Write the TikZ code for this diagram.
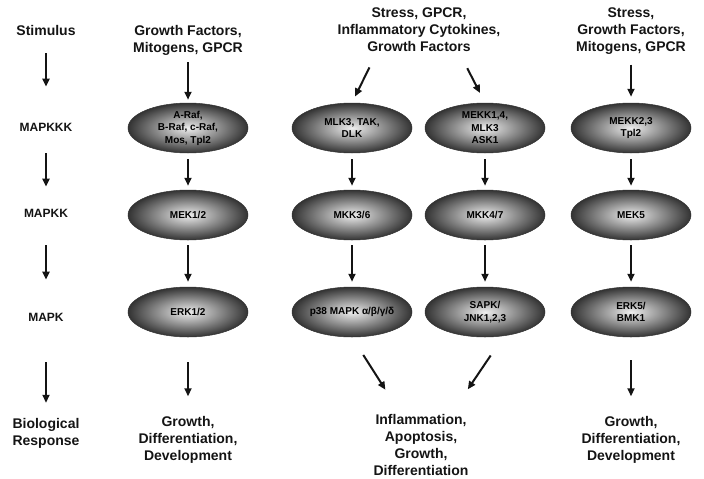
\documentclass[tikz,border=0pt]{standalone}
\usepackage{fontspec}
\setmainfont{Liberation Sans}
\usetikzlibrary{arrows.meta, shapes.geometric, calc}
\definecolor{inkdark}{HTML}{141414}
\definecolor{shadeedge}{HTML}{333333}
\definecolor{shadecore}{HTML}{EEEEEE}
\tikzset{
  kinase/.style={ellipse, inner sep=0pt, minimum width=120pt, minimum height=50pt,
    inner color=shadecore, outer color=shadeedge, draw=shadeedge, line width=0.5pt,
    align=center, text=black, font=\bfseries\fontsize{10}{12.5}\selectfont},
  blurb/.style={inner sep=0pt, align=center, text=inkdark},
  rowname/.style={inner sep=0pt, text=inkdark, font=\bfseries\fontsize{12}{14}\selectfont},
  sig/.style={-{Triangle[length=8pt, width=7pt]}, draw=inkdark, line width=2pt},
}
\newcommand{\kinase}[4]{%
  \node[kinase] (#1) at (#2,#3) {#4};}
\newcommand{\blurb}[4]{%
  \node[blurb] (#1) at (#2,#3) {#4};}

\begin{document}
\begin{tikzpicture}[x=1pt, y=-1pt, font=\bfseries\fontsize{14}{17}\selectfont]
  \useasboundingbox (0,0) rectangle (704,479);
  % row names
  \blurb{lStim}{46}{30}{Stimulus}
  \node[rowname] (lKKK) at (46,127) {MAPKKK};
  \node[rowname] (lKK) at (46,213) {MAPKK};
  \node[rowname] (lK) at (46,317) {MAPK};
  \blurb{lResp}{46}{433}{Biological\\Response}
  % stimuli
  \blurb{stim1}{188}{40}{Growth Factors,\\Mitogens, GPCR}
  \blurb{stim23}{419}{30}{Stress, GPCR,\\Inflammatory Cytokines,\\Growth Factors}
  \blurb{stim4}{631}{31}{Stress,\\Growth Factors,\\Mitogens, GPCR}
  % kinases
  \kinase{kkk1}{188}{128}{A-Raf,\\B-Raf, c-Raf,\\Mos, Tpl2}
  \kinase{kkk2}{352}{128}{MLK3, TAK,\\DLK}
  \kinase{kkk3}{485}{128}{MEKK1,4,\\MLK3\\ASK1}
  \kinase{kkk4}{631}{128}{MEKK2,3\\Tpl2}
  \kinase{kk1}{188}{215}{MEK1/2}
  \kinase{kk2}{352}{215}{MKK3/6}
  \kinase{kk3}{485}{215}{MKK4/7}
  \kinase{kk4}{631}{215}{MEK5}
  \kinase{k1}{188}{312}{ERK1/2}
  \kinase{k2}{352}{312}{p38 MAPK α/β/γ/δ}
  \kinase{k3}{485}{312}{SAPK/\\JNK1,2,3}
  \kinase{k4}{631}{312}{ERK5/\\BMK1}
  % responses
  \blurb{resp1}{188}{440}{Growth,\\Differentiation,\\Development}
  \blurb{resp23}{421}{445}{Inflammation,\\Apoptosis,\\Growth,\\Differentiation}
  \blurb{resp4}{631}{440}{Growth,\\Differentiation,\\Development}
  % arrows
  \draw[sig, shorten <=18pt, shorten >=36pt] (lStim) -- (lKKK);
  \draw[sig, shorten <=22pt, shorten >=22pt] (lKKK) -- (lKK);
  \draw[sig, shorten <=28pt, shorten >=33pt] (lKK) -- (lK);
  \draw[sig, shorten <=41pt, shorten >=15pt] (lK) -- (lResp);
  \draw[sig, shorten <=7pt, shorten >=3pt] (stim1) -- (kkk1);
  \draw[sig, shorten <=17pt, shorten >=7pt] ($(stim23.south)+(-42,0)$) -- (kkk2.north);
  \draw[sig, shorten <=18pt, shorten >=11pt] ($(stim23.south)+(40,0)$) -- (kkk3.north);
  \draw[sig, shorten <=10pt, shorten >=6pt] (stim4) -- (kkk4);
  \foreach \c in {1,...,4} {
    \draw[sig, shorten <=6pt, shorten >=4pt] (kkk\c) -- (kk\c);
    \draw[sig, shorten <=5pt, shorten >=5pt] (kk\c) -- (k\c);
  }
  \draw[sig, shorten <=25pt, shorten >=20pt] (k1) -- (resp1);
  \draw[sig, shorten <=21pt, shorten >=29pt] (k2.south) -- ($(resp23.north)+(-20,0)$);
  \draw[sig, shorten <=22pt, shorten >=30pt] ($(k3.south)+(18,0)$) -- ($(resp23.north)+(30,0)$);
  \draw[sig, shorten <=23pt, shorten >=20pt] (k4) -- (resp4);
\end{tikzpicture}
\end{document}
